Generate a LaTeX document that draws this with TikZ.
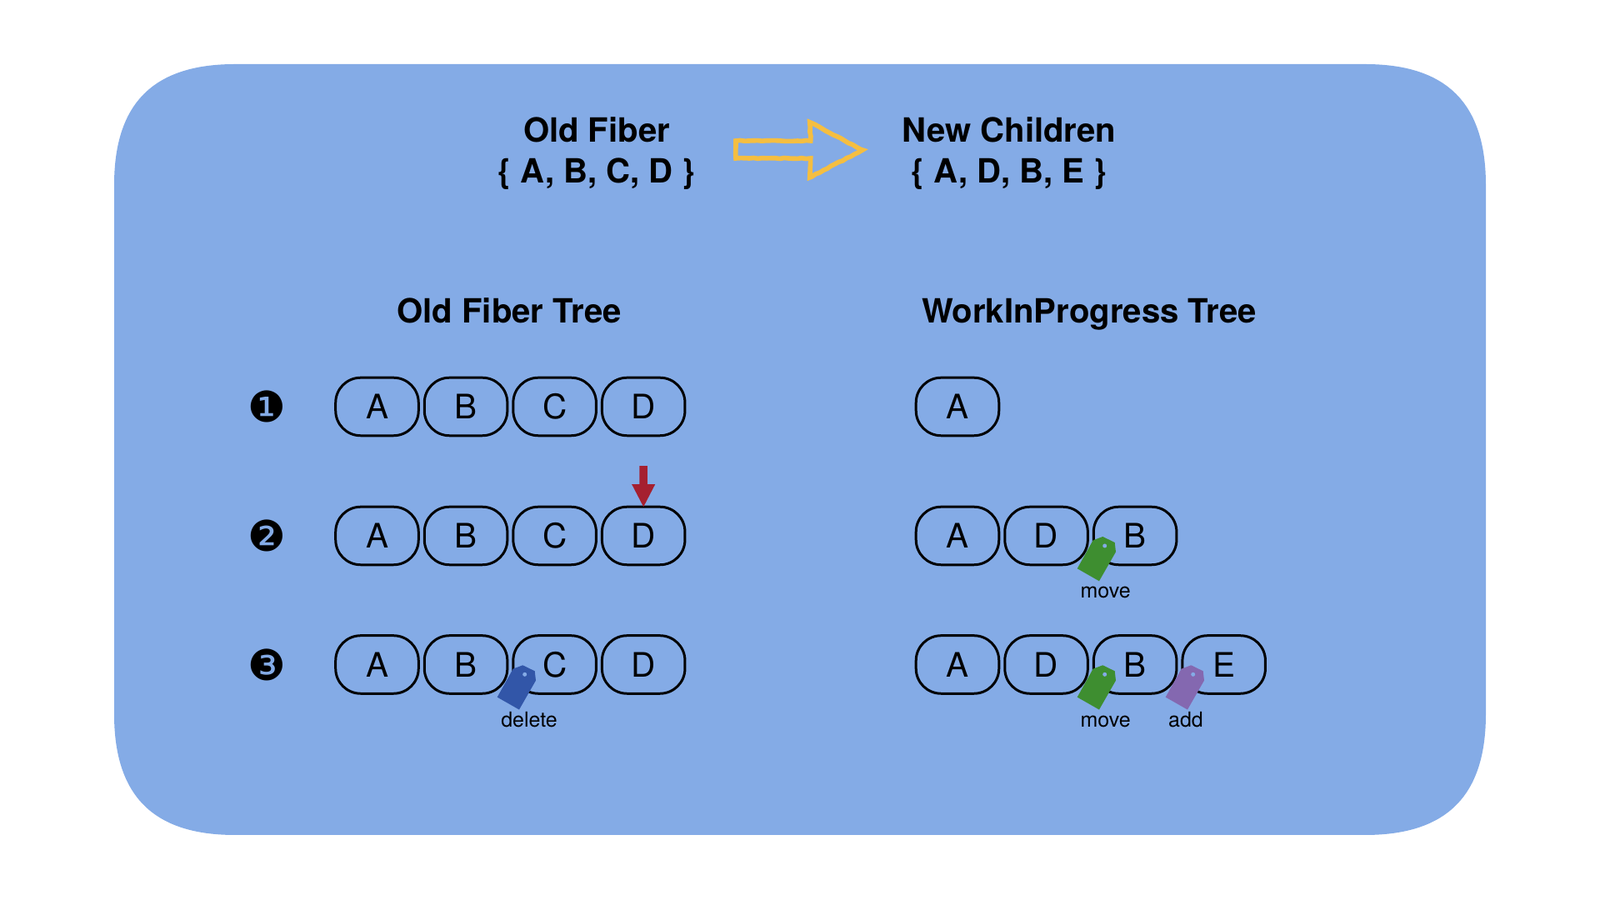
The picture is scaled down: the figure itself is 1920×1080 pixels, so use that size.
\documentclass[tikz,border=0pt]{standalone}
\usepackage{fontspec}
\setmainfont{TeX Gyre Heros}
\newfontfamily\numfont{DejaVu Sans}
\usepackage{xcolor}
\definecolor{panelblue}{RGB}{132, 171, 230}
\definecolor{sketchyellow}{RGB}{245, 190, 65}
\definecolor{markred}{RGB}{165, 32, 48}
\definecolor{tagblue}{RGB}{50, 86, 168}
\definecolor{taggreen}{RGB}{62, 142, 48}
\definecolor{tagpurple}{RGB}{132, 104, 176}
\usepackage{tikz}
\usetikzlibrary{positioning, decorations.pathmorphing}

\begin{document}
\begin{tikzpicture}[x=0.01cm, y=-0.01cm, node distance=0.07cm,
        fiber/.style={rectangle, draw=black, line width=0.85pt, rounded corners=0.3cm, minimum width=0.995cm, minimum height=0.695cm, outer sep=0pt, inner sep=0pt, font=\fontsize{11.5pt}{14pt}\selectfont},
        headline/.style={align=center, inner sep=0pt, anchor=base, font=\fontsize{11.4pt}{14.2pt}\selectfont\bfseries},
        tagtext/.style={inner sep=0pt, anchor=base, font=\fontsize{7.1pt}{8pt}\selectfont},
        stepnum/.style={inner sep=0pt, font=\fontsize{14.5pt}{15pt}\selectfont\numfont},
        pricetag/.pic={
            \fill[pic actions] (-2.4,-11) -- (12,-4) -- (13.3,7.3) -- (-6.7,42.3) -- (-33,27.3) -- (-14,-6.7) -- cycle;
            \fill[panelblue] (0,0) circle (2.5);
        }]

        % Fondo
        \useasboundingbox (0,0) rectangle (1920,1080);
        \fill[white] (0,0) rectangle (1920,1080);
        \fill[panelblue] (137,222) .. controls (137,124) and (184,77) .. (282,77)
            -- (1638,77) .. controls (1736,77) and (1783,124) .. (1783,222)
            -- (1783,857) .. controls (1783,955) and (1736,1002) .. (1638,1002)
            -- (282,1002) .. controls (184,1002) and (137,955) .. (137,857) -- cycle;

        % Titulos
        \node [headline] (oldset) at (716,220) {Old Fiber\\\{ A, B, C, D \}};
        \node [headline] (newset) at (1211,220) {New Children\\\{ A, D, B, E \}};
        \node [headline] (oldtitle) at (611,388) {Old Fiber Tree};
        \node [headline] (newtitle) at (1307,388) {WorkInProgress Tree};

        % Flecha amarilla
        \draw [sketchyellow, line width=1.6pt, miter limit=20, decorate, decoration={random steps, segment length=1.5pt, amplitude=0.15pt}]
            (883,169) -- (972.7,169) -- (971.7,146.7) -- (1035,180) -- (971.7,213) -- (972.7,190) -- (883,190) -- cycle;

        % Fila 1
        \node [stepnum] (one) at (320.7,488) {❶};
        \node [fiber] (a1) at (452.5,488) {A};
        \node [fiber, right=of a1] (b1) {B};
        \node [fiber, right=of b1] (c1) {C};
        \node [fiber, right=of c1] (d1) {D};
        \node [fiber] (na1) at (1149,488) {A};

        % Fila 2
        \node [stepnum] (two) at (320.7,643) {❷};
        \node [fiber] (a2) at (452.5,643) {A};
        \node [fiber, right=of a2] (b2) {B};
        \node [fiber, right=of b2] (c2) {C};
        \node [fiber, right=of c2] (d2) {D};
        \node [fiber] (na2) at (1149,643) {A};
        \node [fiber, right=of na2] (nd2) {D};
        \node [fiber, right=of nd2] (nb2) {B};

        % Fila 3
        \node [stepnum] (three) at (320.7,797.5) {❸};
        \node [fiber] (a3) at (452.5,797.5) {A};
        \node [fiber, right=of a3] (b3) {B};
        \node [fiber, right=of b3] (c3) {C};
        \node [fiber, right=of c3] (d3) {D};
        \node [fiber] (na3) at (1149,797.5) {A};
        \node [fiber, right=of na3] (nd3) {D};
        \node [fiber, right=of nd3] (nb3) {B};
        \node [fiber, right=of nb3] (ne3) {E};

        % Flecha roja
        \fill [markred] (d2.north) -- ++(-14,-27) -- ++(9.3,0) -- ++(0,-22) -- ++(9.4,0) -- ++(0,22) -- ++(9.3,0) -- cycle;

        % Etiquetas
        \pic [taggreen] at (1325.7,655) {pricetag};
        \pic [tagblue] at (629.7,809.3) {pricetag};
        \pic [taggreen] at (1325.7,809.3) {pricetag};
        \pic [tagpurple] at (1431.7,809.3) {pricetag};
        \node [tagtext] (move2) at (1326.7,718) {move};
        \node [tagtext] (del3) at (635,872.5) {delete};
        \node [tagtext] (move3) at (1326.7,872.5) {move};
        \node [tagtext] (add3) at (1423,872.5) {add};
    \end{tikzpicture}
\end{document}
